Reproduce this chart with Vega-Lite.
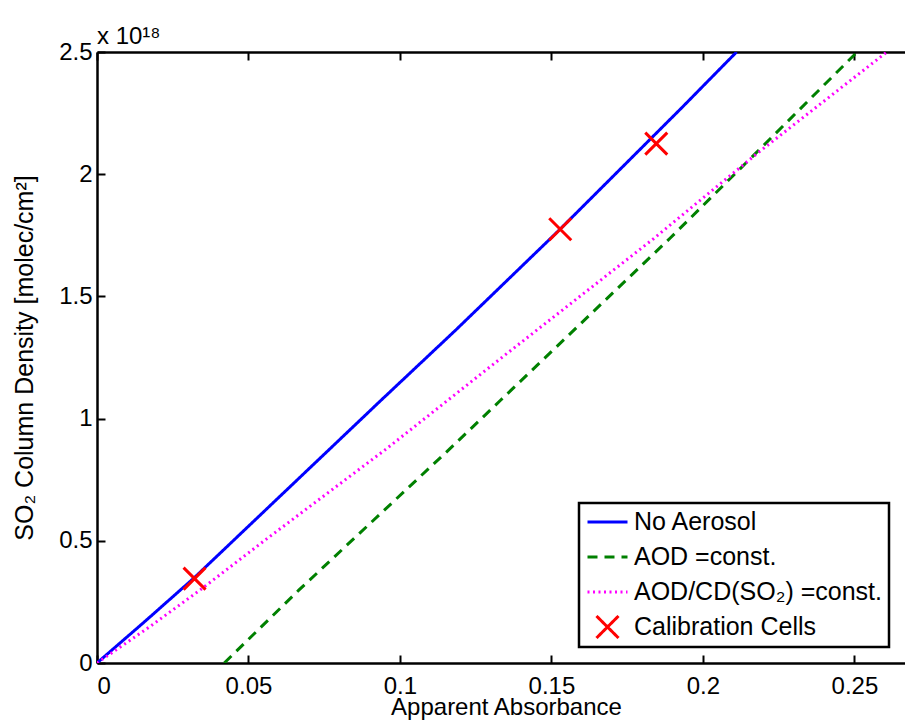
{
  "$schema": "https://vega.github.io/schema/vega-lite/v6.json",
  "width": 818,
  "height": 611,
  "autosize": {"type": "none"},
  "padding": {"left": 97, "top": 52, "right": 0, "bottom": 58},
  "background": "white",
  "title": {"text": "x 10¹⁸", "anchor": "start", "frame": "group", "offset": 5, "dy": 14, "fontSize": 24, "fontWeight": "normal", "font": "Liberation Sans", "color": "black"},
  "datasets": {
    "curves": [
      {"series": "No Aerosol", "x": 0, "y": 0},
      {"series": "No Aerosol", "x": 0.0159, "y": 0.171},
      {"series": "No Aerosol", "x": 0.0322, "y": 0.35},
      {"series": "No Aerosol", "x": 0.0935, "y": 1.072},
      {"series": "No Aerosol", "x": 0.1183, "y": 1.361},
      {"series": "No Aerosol", "x": 0.1527, "y": 1.773},
      {"series": "No Aerosol", "x": 0.1931, "y": 2.273},
      {"series": "No Aerosol", "x": 0.2111, "y": 2.5},
      {"series": "AOD =const.", "x": 0.042, "y": 0},
      {"series": "AOD =const.", "x": 0.0666, "y": 0.298},
      {"series": "AOD =const.", "x": 0.1166, "y": 0.878},
      {"series": "AOD =const.", "x": 0.1332, "y": 1.075},
      {"series": "AOD =const.", "x": 0.1893, "y": 1.74},
      {"series": "AOD =const.", "x": 0.2173, "y": 2.084},
      {"series": "AOD =const.", "x": 0.2509, "y": 2.5},
      {"series": "AOD/CD(SO₂) =const.", "x": 0, "y": 0},
      {"series": "AOD/CD(SO₂) =const.", "x": 0.0176, "y": 0.15},
      {"series": "AOD/CD(SO₂) =const.", "x": 0.0347, "y": 0.305},
      {"series": "AOD/CD(SO₂) =const.", "x": 0.0555, "y": 0.503},
      {"series": "AOD/CD(SO₂) =const.", "x": 0.0957, "y": 0.878},
      {"series": "AOD/CD(SO₂) =const.", "x": 0.1325, "y": 1.239},
      {"series": "AOD/CD(SO₂) =const.", "x": 0.1837, "y": 1.736},
      {"series": "AOD/CD(SO₂) =const.", "x": 0.2178, "y": 2.084},
      {"series": "AOD/CD(SO₂) =const.", "x": 0.2607, "y": 2.5}
    ],
    "cells": [
      {"series": "Calibration Cells", "x": 0.0322, "y": 0.345},
      {"series": "Calibration Cells", "x": 0.1529, "y": 1.775},
      {"series": "Calibration Cells", "x": 0.1846, "y": 2.125}
    ]
  },
  "layer": [
    {
      "data": {"name": "curves"},
      "mark": {"type": "line", "strokeWidth": 3, "clip": true},
      "encoding": {
        "x": {"field": "x", "type": "quantitative", "scale": {"domain": [0, 0.27], "nice": false}, "axis": {"orient": "bottom", "title": "Apparent Absorbance", "values": [0, 0.05, 0.1, 0.15, 0.2, 0.25], "labelExpr": "format(datum.value, '~g')", "labelPadding": 19, "titlePadding": -3, "titleFontSize": 24}},
        "y": {"field": "y", "type": "quantitative", "scale": {"domain": [0, 2.5], "nice": false}, "axis": {"title": "SO₂ Column Density [molec/cm²]", "values": [0, 0.5, 1, 1.5, 2, 2.5], "labelExpr": "format(datum.value, '~g')", "labelPadding": 13, "titlePadding": 21}},
        "color": {"field": "series", "type": "nominal", "scale": {"domain": ["No Aerosol", "AOD =const.", "AOD/CD(SO₂) =const.", "Calibration Cells"], "range": ["#0000ff", "#008000", "#ff00ff", "#ff0000"]}, "legend": {"title": null}},
        "strokeDash": {"field": "series", "type": "nominal", "scale": {"domain": ["No Aerosol", "AOD =const.", "AOD/CD(SO₂) =const.", "Calibration Cells"], "range": [[1, 0], [10, 7], [2, 3.5], [1, 0]]}, "legend": {"title": null}}
      }
    },
    {
      "data": {"name": "cells"},
      "mark": {"type": "point", "filled": false, "strokeWidth": 3, "size": 1600, "opacity": 1},
      "encoding": {
        "x": {"field": "x", "type": "quantitative", "axis": {"orient": "top", "title": null, "labels": false, "values": [0, 0.05, 0.1, 0.15, 0.2, 0.25]}},
        "y": {"field": "y", "type": "quantitative"},
        "color": {"field": "series", "type": "nominal", "legend": {"title": null}},
        "shape": {"field": "series", "type": "nominal", "scale": {"domain": ["No Aerosol", "AOD =const.", "AOD/CD(SO₂) =const.", "Calibration Cells"], "range": ["stroke", "stroke", "stroke", "M-0.55,-0.55L0.55,0.55M0.55,-0.55L-0.55,0.55"]}, "legend": {"title": null}}
      }
    }
  ],
  "resolve": {"axis": {"x": "independent"}},
  "config": {
    "view": {"stroke": null},
    "font": "Liberation Sans",
    "axis": {
      "grid": false,
      "domainColor": "black",
      "domainWidth": 2.5,
      "tickColor": "black",
      "tickWidth": 2,
      "tickSize": -8,
      "labelFont": "Liberation Sans",
      "labelFontSize": 24,
      "labelColor": "black",
      "titleFont": "Liberation Sans",
      "titleFontSize": 25,
      "titleFontWeight": "normal",
      "titleColor": "black"
    },
    "legend": {
      "orient": "none",
      "legendX": 482,
      "legendY": 451,
      "strokeColor": "black",
      "strokeWidth": 2.5,
      "fillColor": "white",
      "cornerRadius": 0,
      "padding": 7,
      "rowPadding": 10,
      "clipHeight": 24,
      "labelFont": "Liberation Sans",
      "labelFontSize": 25,
      "labelColor": "black",
      "labelOffset": 5,
      "labelLimit": 400,
      "symbolSize": 1600,
      "symbolStrokeWidth": 3,
      "symbolFillColor": "transparent"
    }
  }
}
